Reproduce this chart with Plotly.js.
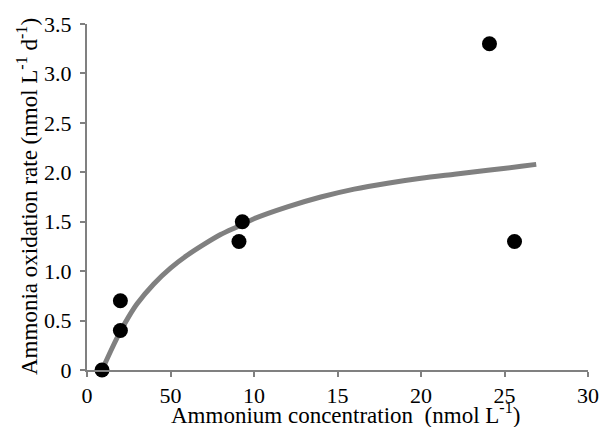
<!DOCTYPE html>
<html>
<head>
<meta charset="utf-8">
<script src="https://cdn.plot.ly/plotly-3.0.1.min.js"></script>
<style>html,body{margin:0;padding:0;background:#fff;}#chart{width:607px;height:427px;}</style>
</head>
<body>
<div id="chart"></div>
<script>
// Observed data points
const obsX = [0.9, 2.0, 2.0, 9.1, 9.3, 24.1, 25.6];
const obsY = [0.0, 0.70, 0.40, 1.30, 1.50, 3.30, 1.30];

// Fitted curve
const fitX = [0.9, 1.5, 2.0, 2.5, 3.0, 4.0, 5.0, 6.0, 7.0, 8.0, 9.0, 10.0, 12.0, 14.0, 16.0, 18.0, 20.0, 22.0, 24.0, 26.0, 26.9];
const fitY = [0.0, 0.22, 0.39, 0.54, 0.67, 0.87, 1.03, 1.16, 1.27, 1.37, 1.45, 1.53, 1.65, 1.75, 1.83, 1.89, 1.94, 1.98, 2.02, 2.06, 2.08];

// Tick labels (as printed in the original)
const xTickVals = [0, 5, 10, 15, 20, 25, 30];
const xTickText = ["0", "50", "10", "15", "20", "25", "30"];
const yTickVals = [0, 0.5, 1.0, 1.5, 2.0, 2.5, 3.0, 3.5];
const yTickText = ["0", "0.5", "1.0", "1.5", "2.0", "2.5", "3.0", "3.5"];

// Axis titles
const xTitle = "Ammonium concentration\u00a0\u00a0(nmol L<sup>-1</sup>)";
const yTitle = "Ammonia oxidation rate (nmol L<sup>-1</sup> d<sup>-1</sup>)";

const font = '"Liberation Serif", "Times New Roman", "DejaVu Serif", serif';

const traces = [
  {x: fitX, y: fitY, type: "scatter", mode: "lines",
   line: {color: "#808080", width: 5, shape: "spline", smoothing: 0.8}, hoverinfo: "skip"},
  {x: obsX, y: obsY, type: "scatter", mode: "markers",
   marker: {color: "#000", size: 15}, cliponaxis: false}
];

const axisCommon = {
  showgrid: false, zeroline: false, showline: true,
  linecolor: "#808080", linewidth: 2,
  ticks: "outside", ticklen: 5, tickwidth: 2, tickcolor: "#808080",
  tickfont: {family: font, size: 22, color: "#000"}
};

const layout = {
  width: 607, height: 427,
  margin: {l: 87, r: 19, t: 24, b: 57},
  paper_bgcolor: "#fff", plot_bgcolor: "#fff",
  showlegend: false,
  font: {family: font, color: "#000"},
  xaxis: Object.assign({}, axisCommon, {
    range: [0, 30], tickmode: "array", tickvals: xTickVals, ticktext: xTickText
  }),
  yaxis: Object.assign({}, axisCommon, {
    range: [0, 3.5], tickmode: "array", tickvals: yTickVals, ticktext: yTickText,
    ticklabelstandoff: 4
  }),
  annotations: [
    {text: xTitle, xref: "paper", yref: "paper", x: 0.515, y: 0,
     xanchor: "center", yanchor: "middle", yshift: -43, showarrow: false,
     font: {family: font, size: 23, color: "#000"}},
    {text: yTitle, xref: "paper", yref: "paper", x: 0, y: 0.5,
     xanchor: "center", yanchor: "middle", xshift: -60, textangle: -90, showarrow: false,
     font: {family: font, size: 23, color: "#000"}}
  ]
};

Plotly.newPlot("chart", traces, layout, {displayModeBar: false, staticPlot: true});
</script>
</body>
</html>
